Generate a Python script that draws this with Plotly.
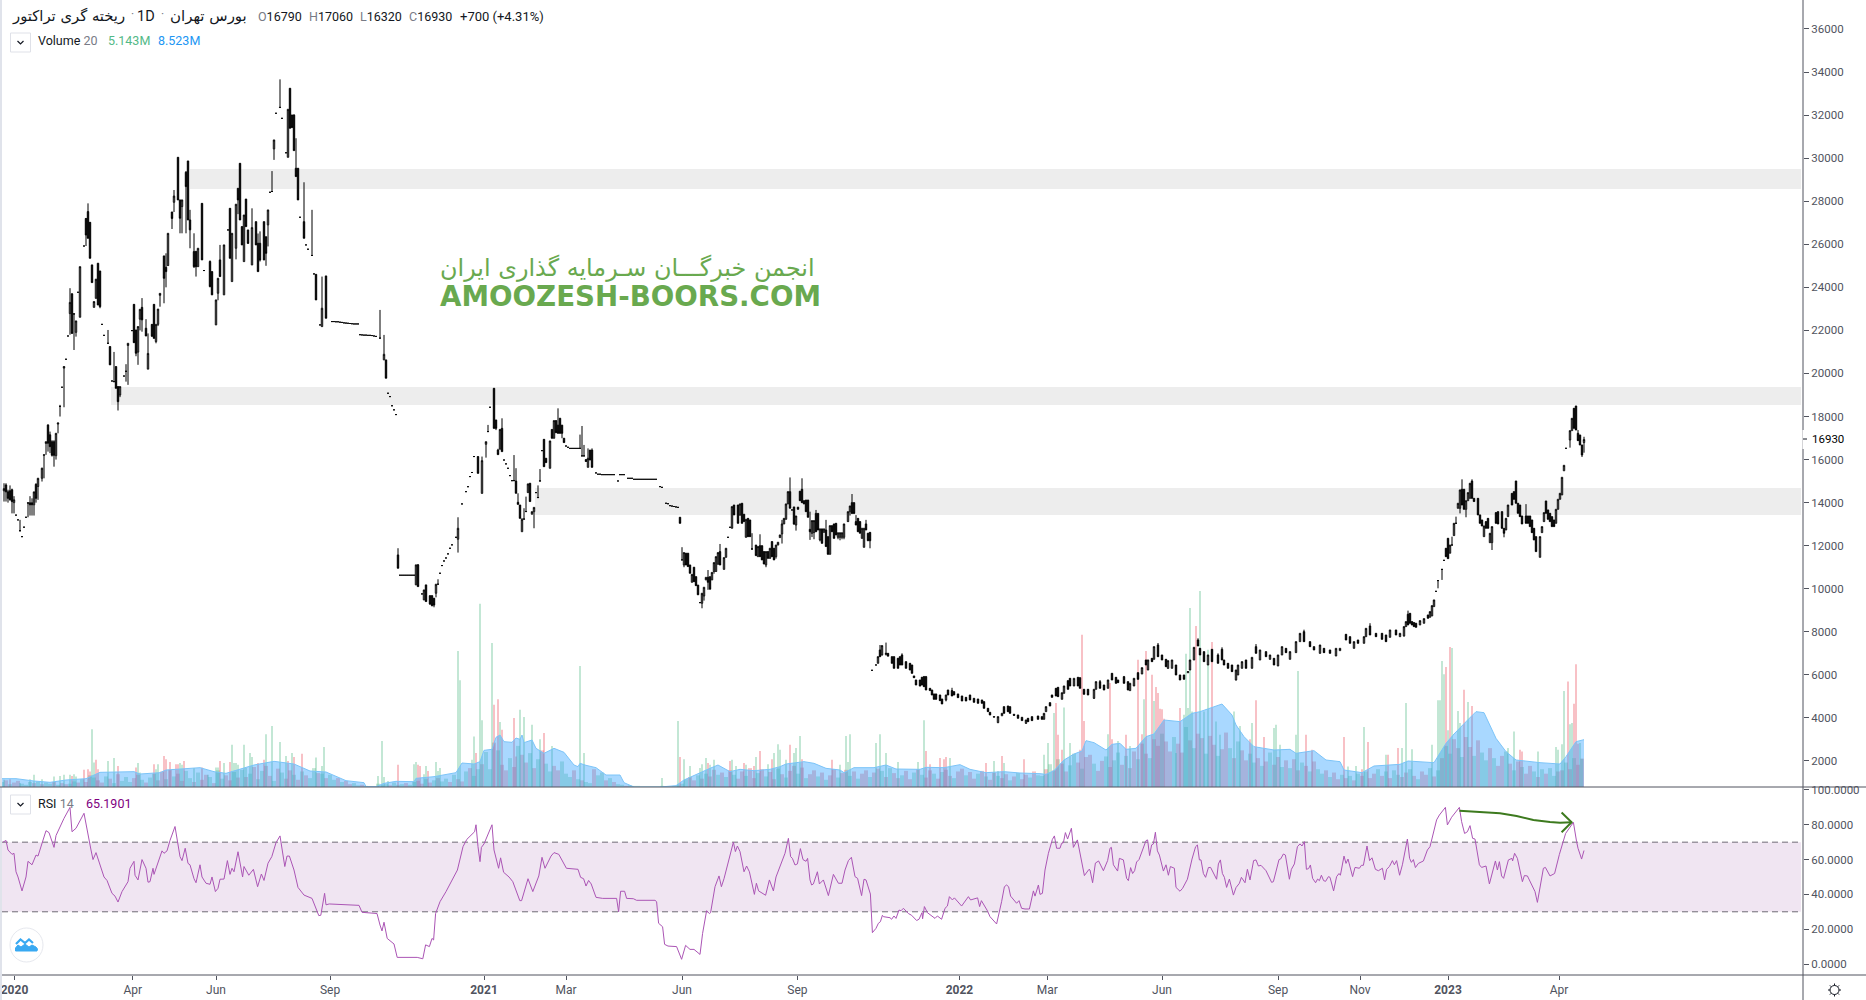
import math
import numpy as np
import plotly.graph_objects as go

W, H = 1866, 1000
RIGHT = 1803
PANE = 787
BOTTOM = 975

# ---- candles (session number, open, high, low, close) ----
sessions, opens, highs, lows, closes = [], [], [], [], []
sessions += [2,3,4,5,6,7,10,14,15,16,17,18,19,21,22,23,24,25,26,27]
opens += [14550,14820,14500,14550,14600,14000,12700,13990,13990,13990,13900,14850,14750,15130,16200,16750,17610,17150,16830,16830]
highs += [14900,14900,14600,14800,14650,14300,13200,14000,14300,14200,14500,14900,15150,15620,16220,16830,17630,17300,16900,16900]
lows += [14050,14050,14000,14100,13500,13500,12650,13320,13400,13400,13400,14000,14130,14980,15130,16220,16370,16300,16140,15670]
closes += [14650,14500,14200,14130,14050,14130,12700,13980,13900,13900,14500,14200,15130,15600,16220,16830,16760,16600,16200,16200]

sessions += [28,29,30,32,35,36,37,38,40,43,44,45,46,47,48,49,50,54,55,57]
opens += [16180,17650,18470,20250,22780,23700,22770,21910,22610,27200,27517,27020,25040,23070,23490,25120,24760,21400,21250,19620]
highs += [17220,17700,18540,20320,23960,23720,22780,22440,24960,27220,27900,27030,25050,23340,24380,25120,24760,22020,21250,21000]
lows += [16000,17220,18000,18430,21800,21860,21090,21710,22610,25920,26278,25350,24220,23070,23480,23180,23030,21400,20400,19620]
closes += [17220,17700,18470,20320,23300,21860,22760,22440,24960,26430,26278,25350,24220,23340,24380,23180,23100,21400,20400,19620]

sessions += [58,59,60,63,64,67,68,69,70,71,73,74,76,77,78,79,80,82,83,84]
opens += [20320,19390,19000,20100,21300,23210,22020,20990,22520,23070,22100,20200,22280,23210,21480,22280,23630,25460,24930,25010]
highs += [20320,19390,19390,20430,21400,23210,22020,22180,22980,23500,22520,21860,22280,23210,22280,22990,23720,25460,25580,26510]
lows += [19310,18280,18900,19620,19470,21430,20800,20400,22000,21940,21740,20200,21700,21630,21400,22200,23100,23260,24000,25000]
closes += [19310,18690,19390,20100,21400,21430,20940,22180,22980,22490,21740,20930,21730,21630,22280,22990,23720,24420,24730,26510]

sessions += [86,87,89,90,91,93,94,95,97,98,99,101,105,106,108,109,110,112,115,116]
opens += [27500,27950,30040,28060,27750,29345,29870,27130,25660,25660,24960,27900,25200,24730,22255,23725,25275,23650,27670,24267]
highs += [27500,28520,30040,28060,28060,29400,29870,27600,26510,25700,25815,27900,25250,24730,23416,24422,25970,25970,27670,26510]
lows += [26710,27500,28060,26510,26510,26510,27130,25815,24900,24500,24950,25275,24000,23650,22255,23400,24500,23650,25350,24267]
closes += [27200,28240,28060,27210,28060,28680,27130,26670,24960,24960,25815,25275,24035,23650,23416,24422,24500,25970,25350,26510]

sessions += [118,119,120,121,122,123,124,126,128,129,130,132,133,134,136,137,140,144,145,146]
opens += [25815,28600,29760,26820,25195,28100,26666,25040,27050,26047,26047,27050,26350,26900,28450,30430,32350,30040,33245,32005]
highs += [27860,28600,29760,26820,27360,28100,26666,27670,27050,26500,26600,27050,26350,27595,29400,30846,33660,32270,33245,32005]
lows += [25300,27400,27130,25970,25195,26820,26040,25040,25970,24730,25200,25270,25000,25900,28450,29920,32350,30040,31390,31420]
closes += [27860,28060,27130,25970,27360,26820,26040,26775,25970,24730,25270,25270,25580,27595,28450,30846,32360,32270,31390,31420]

sessions += [147,148,149,152,156,158,161,163,190,192,193,199,208,209,212,213,215,216,217,218]
opens += [32000,29530,29530,27050,25480,24600,22176,24530,21640,20630,20630,11572,10180,11110,9480,10180,9680,9680,9560,9790]
highs += [32040,30925,29530,28880,27600,24623,24500,24530,22950,21790,20630,11882,11110,11150,9945,10180,9680,9680,9560,10210]
lows += [30350,29145,28060,26280,25475,23416,22176,22565,21635,20630,19780,10953,10180,10100,9480,9405,9250,9180,9140,9600]
closes += [30350,29145,28060,26280,25480,23416,23030,22565,21640,20890,19780,10953,11110,10100,9945,9405,9290,9220,9240,10210]

sessions += [219,229,239,241,243,244,247,248,249,250,251,257,258,259,260,261,262,263,264,265]
opens += [10210,12300,16140,14430,16710,17300,19310,17840,16445,16480,17450,15030,15000,14015,13890,12650,13230,13580,14465,14900]
highs += [10440,13320,16140,16140,16830,17610,19310,17840,16500,17400,17917,16210,15600,14435,13890,13280,13740,14280,14870,14900]
lows += [10210,11680,15360,14430,16090,17300,17450,17370,16230,16480,16370,15020,14435,13920,13270,12650,13230,13580,14465,14050]
closes += [10210,12810,15360,15950,16830,17300,17450,17450,16230,17400,16370,15020,14435,13920,13270,13225,13240,13590,14870,14050]

sessions += [266,267,269,270,272,273,275,276,277,278,279,280,281,282,290,291,292,293,294,295]
opens += [13460,13580,14230,15000,16940,16060,15595,17400,16990,17810,17600,17920,17600,16990,16520,16170,16170,16000,15640,16440]
highs += [13580,13780,14800,15560,16940,16060,16865,17400,17810,17810,18380,17920,17600,16990,17160,17560,16680,16000,16520,16440]
lows += [13460,12810,14230,15000,15670,15860,15595,16990,16990,17250,17220,17220,16990,16790,16520,16170,16170,15900,15640,15980]
closes += [13580,13780,14240,15010,15670,15860,16865,16990,17810,17250,17220,17220,17220,16790,16520,16170,16170,15910,16060,15980]

sessions += [296,340,341,342,343,344,345,346,347,348,349,351,352,353,354,355,356,357,358,359]
opens += [16440,13320,11340,11105,11650,11650,11105,10300,11000,10563,10170,9325,9665,10410,10530,10560,10410,10800,10800,11137]
highs += [16520,13320,11930,11680,11650,11650,11105,10670,11000,10563,10170,9790,10070,10530,10870,10560,10760,11215,11490,11680]
lows += [15640,13040,11340,11000,11105,11030,10720,10300,10330,10145,9715,9093,9450,10410,9950,9975,10410,10700,10800,11137]
closes += [15640,13040,11340,11680,11105,11030,10720,10670,10330,10145,9720,9790,10070,10530,10300,9980,10760,11215,11490,11680]

sessions += [360,362,363,366,367,369,370,371,372,373,374,375,376,378,379,380,381,382,383,384]
opens += [11725,10900,11460,12810,13890,13890,13420,13970,13460,12390,13270,13195,11850,12030,11490,12000,12000,11725,11105,11725]
highs += [12080,11446,11880,13815,13890,13890,13940,13970,13460,13225,13270,13195,12580,12030,11960,12530,12000,11725,11725,11725]
lows += [11105,10900,11460,12810,13430,13040,13400,13040,13120,12390,12420,12420,11800,11540,11490,11490,11340,11150,11000,11400]
closes += [11105,11446,11880,13815,13430,13040,13940,13040,13120,13225,12420,12420,11850,11540,11960,11490,11340,11150,11725,11415]

sessions += [385,386,387,388,389,390,391,392,393,394,395,397,398,399,400,401,402,403,404,405]
opens += [11415,12190,11880,11490,12030,12375,12545,13010,13225,13940,14510,13800,12960,13790,14530,14620,14090,14120,14120,12760]
highs += [11880,12190,11880,12030,12160,12500,13200,13270,13940,14510,15170,13800,13380,13790,14530,15130,14090,14120,14120,13580]
lows += [11400,11490,11340,11400,12030,12375,12100,13010,13225,13940,13740,13000,12700,13690,14090,14000,13940,13580,13320,12270]
closes += [11880,11490,11340,12030,12160,12500,13010,13270,13940,14510,13740,13000,13380,13690,14090,14000,13940,13580,13320,12650]

sessions += [406,407,408,409,410,411,412,413,414,415,416,417,418,419,420,421,422,424,425,426]
opens += [12575,12610,13500,13500,12265,12780,12620,12730,12420,11600,12930,13010,13040,12390,12390,12390,12390,13118,13580,14000]
highs += [13165,13165,13660,13500,12780,12780,12780,13200,12420,12930,12930,13010,13040,12600,12600,12600,13010,13580,13845,14400]
lows += [12400,12300,12650,12730,12200,12110,12620,11960,11600,11600,12650,12340,12500,12300,12250,12300,12300,13100,13400,13500]
closes += [13165,13165,12650,12730,12780,12110,12780,11960,11600,12930,12650,12340,12500,12600,12600,12600,13010,13580,13845,13500]

sessions += [427,428,429,430,431,432,433,434,435,439,440,441,443,444,446,447,449,450,451,453]
opens += [14000,13118,13270,13118,12340,11925,13010,12580,12620,6537,7156,6924,6950,7000,6846,6846,6770,6846,6924,6614]
highs += [14000,13420,13270,13118,12810,12810,13200,12580,12620,6846,7388,7360,7500,7000,6846,6846,6770,6846,7000,6614]
lows += [13500,12960,12650,12580,12340,11925,12730,12230,11880,6537,6846,6900,6900,6870,6537,6305,6305,6459,6459,6305]
closes += [13500,12960,12650,12580,12810,12810,12730,12230,12230,6846,6846,7360,7000,6870,6537,6305,6305,6459,6459,6305]

sessions += [455,456,457,458,460,461,462,463,465,466,467,468,470,471,473,474,476,477,479,481]
opens += [6537,6459,5950,5763,5763,5890,5917,5917,5376,5298,5114,5114,5066,4880,4834,5298,5270,5221,5114,5020]
highs += [6537,6459,5950,5763,5763,5890,5950,5950,5376,5298,5114,5114,5066,4880,5066,5298,5400,5221,5114,5020]
lows += [6227,6072,5870,5530,5480,5530,5453,5298,5270,5066,4865,4865,4803,4650,4770,5066,5020,5066,4942,4788]
closes += [6227,6072,5870,5530,5480,5530,5453,5298,5270,5066,4865,4865,4803,4650,5066,5066,5020,5066,4942,4788]

sessions += [483,485,487,489,491,492,494,495,497,499,501,502,504,505,507,509,511,513,514,516]
opens += [4957,5066,4911,4880,4834,4757,4447,4261,4060,3780,4100,4524,4555,4524,4170,4137,4030,3750,3983,4060]
highs += [4957,5066,4911,4880,4834,4757,4447,4261,4060,4060,4215,4524,4555,4524,4170,4137,4030,3905,3983,4060]
lows += [4788,4834,4726,4680,4680,4447,4292,4137,4040,3760,4100,4215,4292,4215,4120,3983,3875,3720,3828,3875]
closes += [4788,4834,4726,4680,4680,4447,4292,4137,4040,4060,4215,4215,4292,4215,4120,3983,3875,3905,3828,3875]

sessions += [519,521,522,523,525,526,528,529,531,532,534,535,537,539,540,542,544,547,548,550]
opens += [4090,4060,3936,4292,4710,5066,5376,5422,4865,5144,5732,5840,5484,5887,5871,5330,5330,4911,5330,5685]
highs += [4090,4060,4215,4524,4710,5066,5376,5422,5170,5484,5732,5840,5840,5887,5871,5330,5330,5330,5685,5760]
lows += [3936,3936,3936,4292,4555,4957,5020,4989,4865,5144,5330,5484,5484,5484,5376,5097,5066,4880,5330,5376]
closes += [3936,3936,4215,4524,4555,4957,5020,4989,5170,5484,5330,5484,5840,5484,5376,5097,5066,5330,5685,5376]

sessions += [552,554,556,558,559,562,564,565,567,569,571,573,574,576,577,579,581,583,584,586]
opens += [5530,5376,6072,5887,5763,5917,5685,5268,5484,6103,6041,6692,6227,6769,6723,7388,6924,6723,6305,6305]
highs += [5530,5763,6072,5887,5763,5950,5685,5608,5840,6103,6335,6692,6692,6769,7311,7480,6924,6723,6660,6692]
lows += [5298,5376,5763,5608,5639,5608,5298,5268,5484,5794,6041,6459,6227,6614,6723,6846,6692,6382,6280,6305]
closes += [5298,5763,5763,5608,5639,5608,5298,5608,5840,5794,6335,6459,6692,6614,7311,6846,6692,6382,6660,6692]

sessions += [588,590,592,594,595,597,599,600,602,604,606,609,611,612,614,616,618,619,621,623]
opens += [6459,5995,5995,6100,6227,6692,7620,7233,7079,6459,7187,6924,7187,6692,6537,6459,5763,5995,6305,6692]
highs += [6459,5995,5995,6150,6692,7280,7700,7233,7079,6924,7187,7000,7280,6692,6537,6459,6227,6459,6614,6692]
lows += [5995,5763,5794,6100,6227,6692,7342,6924,6614,6459,6614,6537,6692,6459,6305,6150,5740,5995,6305,6305]
closes += [5995,5763,5794,6150,6692,7280,7342,6924,6614,6924,6614,6537,6692,6459,6305,6150,6227,6459,6614,6305]

sessions += [626,628,630,633,635,637,639,641,643,645,648,650,652,655,657,660,662,665,668,670]
opens += [6305,7311,6692,7079,6722,6769,6413,6924,7233,6723,7033,7543,8007,7543,7311,7001,7233,7156,6877,7125]
highs += [6815,7430,7156,7079,6924,6769,6924,7311,7233,7079,7543,7930,8100,7543,7311,7388,7233,7156,7233,7233]
lows += [6305,7001,6692,6846,6722,6459,6413,6924,7033,6723,7033,7543,7543,7311,7156,6990,7033,7001,6877,7125]
closes += [6815,7001,7156,6846,6924,6459,6924,7311,7033,7079,7543,7930,7543,7311,7156,7388,7033,7001,7233,7233]

sessions += [673,675,677,679,682,683,685,688,691,693,695,698,700,702,703,704,705,706,707,708]
opens += [7884,7775,7233,7620,7466,7775,8270,7930,7930,7853,7745,8085,7775,7808,8242,8815,8860,8474,8428,8397]
highs += [7884,7775,7543,7620,7775,8162,8400,7930,7930,7853,8085,8085,7930,8242,8474,8985,8860,8474,8428,8397]
lows += [7620,7466,7233,7466,7466,7775,7853,7775,7651,7543,7745,7853,7775,7777,8242,8320,8397,8319,8242,8210]
closes += [7620,7466,7543,7466,7775,8162,7853,7775,7651,7543,8085,7853,7930,8242,8474,8320,8397,8319,8242,8210]

sessions += [710,712,714,715,716,717,719,721,723,724,725,726,727,728,729,730,731,732,733,734]
opens += [8319,8397,8783,8675,8737,9171,10380,10900,11880,12344,11650,12030,12470,13040,13737,13737,14620,14620,13690,14090]
highs += [8520,8613,8783,8938,9217,9480,10380,10900,11880,12344,12030,12420,13040,13350,13970,14590,15083,14620,14090,14465]
lows += [8319,8397,8629,8675,8737,9171,10020,10410,11490,11400,11650,12030,12470,13040,13737,13500,13890,13690,13320,14090]
closes += [8520,8613,8629,8938,9217,9480,10380,10900,11490,11400,12030,12030,13040,13040,13970,14590,13890,13690,14090,14465]

sessions += [735,736,737,739,740,741,742,743,744,745,746,748,749,751,752,753,754,756,757,758]
opens += [14200,15000,14200,14200,13430,13195,12420,13118,13270,12140,12143,13536,13582,13582,12808,12730,13350,14430,14510,15006]
highs += [14900,15083,14200,14200,13430,13195,12917,13118,13270,12576,12886,13536,13582,13582,12808,13273,13890,14430,14510,15006]
lows += [14200,14200,14050,13430,13040,12917,12420,12810,12810,12140,11800,13040,13010,12808,12390,12730,13350,13890,14155,13970]
closes += [14900,14200,14050,13430,13040,12917,12917,12810,12810,12576,12886,13040,13010,12808,12576,13273,13890,13890,14155,13970]

sessions += [759,760,761,763,764,765,766,767,768,770,771,772,773,774,775,776,777,778,779,780]
opens += [13970,13890,13380,13380,13380,13380,13195,12808,12421,11460,12607,13118,14078,13660,13505,13350,13195,13040,13690,14155]
highs += [13970,13890,13380,13930,13380,13380,13195,12808,12421,12421,12886,13536,14078,13660,13505,13350,13195,13690,14155,14434]
lows += [13505,13350,13010,13040,13040,12886,12607,12267,11725,11460,12607,13118,13505,13226,13118,12886,12886,13040,13690,14155]
closes += [13505,13350,13010,13040,13040,12886,12607,12267,11725,12421,12886,13536,13505,13226,13118,12886,12886,13690,14155,14434]

sessions += [781,782,785,786,787,788,789,790,791,792]
opens += [14357,15480,16910,17344,18381,18490,17220,17143,16678,16790]
highs += [15177,15734,17344,17917,18381,18490,17375,17143,16678,17060]
lows += [14357,15480,16554,17344,17452,17375,16880,16678,16118,16320]
closes += [15177,15734,17344,17917,17452,17375,16880,16678,16214,16930]

# sessions where the stock did not move (single-price days)
flat_sessions = [8,9,11,12,13,31,33,34,39,42,51,52,56,62,66,102,114,135,138,141,143,150,153,154,157,160,166,167,168,169,170,171,172,173,174,175,176,177,178,179,180,181,182,183,184,185,186,187,188,194,195,196,197,198,200,201,202,203,204,205,206,207,211,220,221,222,223,224,225,226,228,231,233,234,235,236,237,245,252,253,254,255,256,268,271,283,284,285,286,287,288,289,298,299,300,301,302,303,304,305,306,307,309,310,311,312,314,315,316,317,318,319,320,321,322,323,324,325,326,327,328,330,331,333,334,335,336,337,338,339,350,364,365,396,436,438,718,722,783]
flat_prices = [13420,13200,12420,12860,13320,19360,20660,21740,23770,25920,22280,21770,19650,19880,21990,24780,26666,28415,32085,31850,30250,27255,25970,25770,24623,22255,22410,22410,22400,22400,22380,22370,22350,22340,22330,22320,22310,22300,22300,22300,21800,21790,21780,21780,21770,21770,21760,21740,21720,19080,18925,18500,18310,18090,10628,10628,10628,10628,10628,10628,10628,10628,9760,10720,11077,11290,11430,11620,11880,12040,12390,13940,14510,14740,15210,15400,16140,18430,15980,15800,15595,15255,15020,14465,16415,16630,16570,16520,16520,16520,16520,16520,15380,15320,15320,15300,15300,15300,15300,15300,15300,15300,15006,15300,15300,15300,15130,15130,15130,15084,15084,15084,15084,15084,15084,15084,15084,15084,15084,15084,15084,14743,14710,13970,13950,13860,13840,13820,13800,13780,9355,12390,12855,13660,6212,6460,9880,11320,16523]

# ---- volume, millions ----
vol_every_other = [
 0.9,1.2,0.5,0.8,1.1,0.6,0.4,0.9,0.7,1.0,0.5,0.8,0.6,0.9,0.4,0.7,0.5,0.6,1.0,0.8,
 1.4,0.9,2.1,1.7,1.2,0.8,1.9,1.5,0.7,2.3,1.1,1.8,0.9,1.6,2.2,1.3,0.8,1.7,2.4,1.2,
 2.8,1.4,3.1,1.9,2.4,1.1,2.9,1.6,0.9,2.6,1.3,2.2,1.8,0.7,3.0,1.5,2.1,1.2,2.7,1.7,
 3.1,1.8,2.4,3.6,1.4,2.9,3.8,2.0,1.1,3.3,2.6,1.5,3.0,2.2,1.3,2.8,2.1,1.6,3.4,2.5,
 2.4,1.6,2.2,1.3,1.6,0.9,1.1,0.5,0.7,0.3,0.4,0.2,0.1,0.1,0.6,0.3,0.5,0.3,0.8,0.4,
 0.5,0.7,0.4,0.9,1.1,0.6,1.4,0.8,1.2,1.6,1.0,1.5,0.9,2.2,1.4,1.0,2.8,3.4,2.0,3.2,
 4.1,6.3,3.2,8.0,6.6,4.0,3.0,5.2,3.6,7.4,5.8,4.4,6.1,3.4,5.0,6.6,4.2,2.8,3.8,3.0,
 4.6,2.4,1.8,3.0,1.4,1.2,0.9,0.7,3.2,2.1,2.6,1.2,1.6,0.9,0.5,0.4,0.2,0.3,0.2,0.2,
 0.1,0.1,0.1,0.1,0.1,0.2,0.1,0.1,0.2,0.3,0.6,1.4,1.8,1.2,2.1,1.5,2.4,1.9,3.1,2.2,
 2.6,1.8,3.0,2.2,1.5,2.8,2.0,3.4,1.6,2.5,3.2,1.9,2.7,1.4,3.3,2.3,1.7,2.9,3.8,2.4,
 3.5,1.6,2.3,3.0,1.9,2.6,1.3,2.1,3.2,1.7,2.5,3.1,2.0,2.8,1.5,2.4,3.0,1.8,2.6,3.3,
 2.9,1.8,3.4,2.5,1.6,2.1,2.9,1.4,2.6,3.2,2.2,1.7,3.0,2.4,1.5,2.7,3.1,2.0,1.6,2.8,
 3.3,2.1,2.7,1.5,2.4,2.9,1.9,1.3,2.6,2.0,1.6,2.3,1.2,1.9,2.5,1.4,2.2,1.7,2.8,2.1,
 2.0,3.2,4.1,3.0,5.0,4.2,2.8,3.9,6.0,4.4,3.3,5.4,5.8,4.2,2.9,4.7,5.5,3.6,4.8,6.2,
 4.0,5.6,3.4,6.4,5.0,7.8,6.0,5.2,8.6,7.4,9.6,8.2,6.4,9.0,7.8,6.2,10.8,8.4,7.0,9.6,
 8.8,6.0,9.2,7.6,5.6,6.8,9.8,7.0,5.2,8.2,6.6,4.8,6.0,4.4,5.2,3.8,4.6,6.2,4.0,5.4,
 3.6,4.8,3.4,5.0,3.0,4.4,3.8,2.8,4.6,3.2,2.4,3.0,1.8,2.6,1.4,2.2,1.6,2.0,1.2,2.4,
 2.0,2.8,1.6,2.4,3.2,2.0,2.8,1.6,3.0,2.2,1.8,2.6,3.2,2.0,1.4,2.8,2.2,3.4,1.9,3.0,
 5.2,7.4,6.0,8.6,7.0,5.4,9.0,7.2,5.6,8.4,6.2,4.8,7.0,5.2,3.8,5.6,6.4,4.2,3.0,4.6,
 3.6,2.4,3.8,2.8,1.8,3.2,2.4,3.4,2.0,2.8,3.0,4.4,3.2,5.2,4.0,5.1]
vol_every_other_tone = (
 "grgrrgggrgrggrgrrggr" "grggrrgrgrgggrrgrggr" "rgrgrrggrgrrgrggrrgr" "grgrggrrgrgrrgrgrggr"
 "grggrgrrggrgrrgggrgg" "grggrrgrgrggrgrrgrgg" "rggrgrrgrgrrgrgrggrr" "gggrgrggrggrgrggrggg"
 "ggggggggggggrrgrgrrg" "rgrgrrgrrgrgrrgrgrrg" "rgrrgrgrrgrrgrgrrgrr" "grgrrgrrgrgrrgrgrrgr"
 "rgrrgrgrrgrrgrgrrgrg" "grgrgrrggrgrrgrrgrgg" "rgrrgrrgrrgrrgrrgrgr" "rgrrgrrgrgrrggrgrgrr"
 "grgrrgrgrggrgrrgrgrg" "rgrrgrgrggrrgrgrrgrg" "rggrrgrrgrggrgrrgrgr" "grrgrgrggrrgrgrr")

spike_sessions = [2,5,10,15,17,21,27,30,32,35,36,37,38,42,44,45,46,47,48,49,54,57,59,68,69,70,77,78,79,82,83,85,88,89,90,91,92,97,101,104,108,109,110,112,115,116,117,118,119,122,123,125,126,129,132,133,136,140,143,144,146,147,151,158,161,162,189,191,192,194,199,207,208,209,210,212,213,214,218,219,220,229,230,236,237,238,240,241,246,247,249,250,251,257,258,
 260,262,266,270,272,276,290,292,331,339,340,342,345,350,351,353,354,355,357,365,366,368,372,373,377,378,380,384,386,387,389,390,393,395,397,398,400,401,416,420,423,424,425,438,440,443,449,459,462,463,465,470,472,473,475,493,497,499,501,502,512,
 522,524,527,528,529,531,532,535,540,541,542,554,555,556,559,563,565,569,571,572,573,576,577,578,579,580,581,582,588,590,592,593,594,595,596,598,600,602,604,606,608,610,617,620,625,626,628,632,637,638,640,648,649,653,656,672,674,678,681,682,684,693,694,699,701,703,706,716,719,720,721,722,723,724,725,726,729,730,732,734,736,754,757,760,761,769,778,779,781,782,784,785,786,787,788,789,790,791]
spike_volumes = [1.3,1.4,0.7,1.4,2.2,1.4,1.9,2.0,2.2,2.2,2.0,2.3,1.9,3.1,3.2,2.8,10.4,4.4,4.9,3.2,4.7,5.2,3.8,3.5,4.3,2.6,4.1,3.2,4.1,5.6,5.0,4.5,4.1,4.1,4.3,4.0,4.7,3.4,3.5,2.2,3.5,3.5,4.7,4.3,4.5,7.6,4.3,4.3,4.0,7.6,3.4,6.1,5.4,4.3,4.9,9.5,11.0,8.1,5.6,4.7,6.1,5.4,6.0,5.3,3.8,7.2,2.0,8.3,1.8,1.1,4.0,4.1,4.5,4.0,3.8,2.3,3.8,2.9,4.5,2.9,3.4,24.5,19.2,4.9,9.1,6.1,33.0,12.0,25.9,14.8,15.8,11.7,10.3,12.4,5.5,
 13.9,12.6,11.2,8.6,9.7,7.4,21.8,6.1,1.6,11.9,5.4,5.0,3.8,3.4,4.1,5.2,4.3,4.0,4.9,4.7,4.9,3.8,4.3,4.0,3.8,5.4,6.5,4.1,5.0,6.1,7.7,6.7,4.9,7.6,6.1,7.0,9.2,5.0,4.9,4.0,9.2,4.5,9.5,7.9,9.5,6.1,4.5,4.5,12.0,6.5,4.1,5.2,5.0,5.4,5.2,4.3,4.7,2.9,5.6,4.3,5.0,
 5.8,7.9,13.3,15.1,9.4,6.7,14.3,7.9,6.7,27.4,11.9,9.5,18.7,8.6,8.3,9.4,7.4,22.9,9.5,15.8,24.5,20.2,15.5,18.0,16.9,14.1,14.0,12.3,6.1,14.2,13.0,24.0,14.2,32.2,13.6,29.0,35.3,13.6,24.7,26.1,11.8,9.4,13.6,11.0,8.6,11.5,15.6,9.0,10.6,11.2,7.6,9.4,20.9,9.4,6.7,9.0,3.7,3.8,3.2,10.8,8.1,5.8,5.8,7.0,7.0,15.1,6.8,7.6,15.6,15.6,22.7,20.3,21.6,10.2,25.2,25.0,13.7,11.5,17.5,15.3,14.6,7.0,10.0,6.7,6.4,6.4,7.2,6.7,7.7,17.3,19.0,11.3,11.5,15.0,22.1,7.8,7.9,5.1]
spike_down = {5,36,42,44,45,48,49,59,68,77,82,83,85,88,89,92,101,110,115,129,132,144,147,151,199,209,210,214,238,247,249,251,257,258,
 272,340,354,365,372,377,380,386,395,401,416,463,465,470,472,473,493,501,512,
 528,529,531,540,541,542,555,556,563,569,571,573,576,578,579,580,581,582,590,598,606,625,628,632,653,656,672,681,684,694,699,723,725,732,736,760,761,784,787,788,789}

# ---- 20 period moving average of volume, millions ----
ma_sessions = [1,8,17,25,33,43,50,67,70,80,83,100,107,113,127,137,147,155,163,173,182,183,188,192,198,207,208,217,228,231,237,240,242,246,248,250,252,256,258,260,
 261,262,266,268,272,277,282,287,289,290,293,298,303,310,312,317,330,338,342,348,355,359,365,370,377,385,390,393,402,407,413,420,422,427,437,443,448,460,463,472,480,485,493,502,510,520,
 523,527,532,537,541,543,547,553,556,560,563,568,573,577,582,590,596,600,607,611,616,618,622,627,637,645,648,657,663,670,672,681,687,700,704,717,723,727,733,738,742,748,753,758,770,780,783,788,792]
ma_values = [1.5,1.5,1.08,0.84,1.26,1.5,2.64,2.76,2.34,2.58,3.06,3.48,2.76,2.46,3.96,4.62,4.14,2.88,2.7,1.14,0.78,0.06,0.06,0.66,1.02,0.96,1.56,1.86,2.58,4.32,4.14,4.56,6.6,6.78,8.94,9.36,8.16,8.04,8.82,8.58,
 9.36,7.98,8.46,6.96,6.06,6.96,6.24,3.96,3.66,4.26,3.9,3.48,2.16,2.16,0.78,0,0,0.24,1.26,2.28,3.36,3.96,2.76,3.18,2.94,3.18,3.66,4.14,4.56,4.26,3.36,3.06,2.58,3.48,3.48,3.96,3.24,3.18,3.54,3.48,4.02,3.18,2.58,2.76,2.52,2.4,
 2.28,2.94,4.86,5.94,6.48,8.34,7.98,6.66,7.68,7.86,6.78,6.96,9.06,9.54,12.06,11.76,13.26,13.56,14.46,14.94,12.96,11.16,9.06,7.26,6.66,6.78,6.06,6.54,4.86,4.56,3.06,2.58,3.78,4.08,4.68,4.38,7.86,9.54,11.76,13.56,13.38,8.76,6.36,4.86,4.38,4.14,5.46,8.16,8.52]

# ---- RSI 14 ----
rsi_sessions = [1.5,3,4,6,7,8,9,11,13,14,16,18,19,23,24.5,27,28,32,35,36,38,42,45.5,46.5,48,52,53.5,56,57.5,59,61,64,65,67,67.5,69,71,73,74,75,76.5,77,81,82,83.5,85,87.5,90,91,92.6,94,95,97,98,100,101,103,105,106,107.7,109,110,112,113.7,115,116,117,119,121.3,122,124.4,126.7,128.8,130.7,132,134,135.9,138,140,142.4,143.5,144.7,147,149,152,156,159.4,160.4,162.3,163,164.6,171,179.5,181,188.5,190,191,192,193.6,197,198.6,208.6,211.4,212.8,214.7,216,216.8,217.8,220,223,228.7,231.5,233.4,237.3,238,239,240,240.7,242,246,247,249.3,250.3,251.8,254.5,256.4,259.9,260.8,264,266.4,269.4,271,272.5,275.5,277,279.4,283.2,289,290.3,291.8,293,294.3,295.6,298,
 301.3,308.3,309.3,310.3,312.3,313.3,316.7,318.3,327.5,328.3,329.3,331.3,332.3,334,338.3,340.8,342.8,345,347,350,351.3,353.3,354.7,355.3,357.5,359.5,360.7,362,366.7,367.7,368.7,370,372,373.3,374.7,377.2,378.2,379.3,382.8,384.7,386.7,388,392.5,394.2,395.3,396.2,397.5,398.7,400.2,401.5,403,403.8,405,405.8,406.7,408.7,409.7,411.7,414.2,416.7,419.2,421,422.5,424.2,425.7,427.5,428.8,430.8,432,433,435.2,436.2,438,439.2,440.2,441.2,441.7,445,445.8,447,448,449.5,450.5,451.7,454.2,455.8,458.3,459.5,461,461.3,462.2,463.7,467.5,468.7,470.8,472.5,473.7,474.7,476.2,477.2,480.8,484.2,485.3,488.8,489.8,490.7,492,493.7,495,498.3,500.8,502.2,503.3,504.3,505.3,508.3,509.5,510.8,512.5,514.7,516.7,517.5,519.2,
 520,521.2,522.5,524.2,526.2,527.2,528.3,530,530.8,531.7,532.7,533.8,535.7,536.7,538.7,542.2,544.5,545,546.3,547.7,549.3,551.7,553.8,555,555.7,556.7,558.8,559.7,561.7,563.3,564.2,565.3,566.3,567.3,568.3,569.5,573,573.8,574.8,575.8,576.7,577.7,578.7,579.7,581.7,583,584.2,585.2,587.2,588,590,591.3,593.7,596,597.8,598.7,599.7,600.5,601.7,602.8,604.2,605.3,606.7,608.3,609.2,610.2,611.2,612.2,613.3,614.7,616.7,618,619.7,620.7,622.5,623.7,625,626.8,628,629.2,630.5,633,635.8,636.7,639.5,640.3,641.7,642.7,644.7,645.7,647.2,648.7,650,651,652.2,653.2,654.3,655.2,656.3,657.8,658.8,659.7,660.7,661.8,662.8,664.2,665,666.8,668.3,669.5,670.2,672,673,674,676.3,677.5,679.7,680.7,681.7,683.5,684.8,686,687.7,689.2,691.2,692.3,693.3,694.7,696.2,697.2,698.3,699.8,701.2,703.7,704.8,705.7,706.7,707.7,709.2,711.7,713.7,715,718.3,719.7,722.7,723.7,725.8,729.7,730.8,732.3,733.7,735,736.3,737.5,739.7,740.8,743,744.7,747.7,748.7,749.7,750.8,751.8,754.2,756,756.3,757.3,758.7,761.2,762.2,763.7,765.8,767.5,768.7,770.5,771.7,772.7,775,777.3,779.7,782.8,786.7,788.3,789,790.8,792]
rsi_values = [70,71,65.5,63,63.6,53,50,42,50,59,57,62.6,62,76.6,75.5,67,73.8,83.7,90,76,78,86.6,65.5,60,64,50,48,40.6,39,35.6,41.6,47.3,55,59,51,48.3,60,55,47,47.3,55,51.5,65,63.6,65,71,79,61.7,59.4,66.5,57.8,57,49,46.7,57,50,46.4,45.8,50,41.6,43.5,48.7,48.8,59.4,51.5,55,53,64.5,50,56,51,54.4,44.4,51.7,48,57.9,61.7,69.7,73.6,56,62,62,54,44,39.6,37.7,27.8,28,40.6,34,34.5,34,33.7,29.7,29,22.4,19,24,14.7,11.5,3.8,3.8,3,11,10,14.7,13.8,29,35.8,41.6,54,67.4,71.6,76,80,67.4,58.8,67,69,80,65.5,55,61,52.7,50,47.3,36.4,36.4,49,41.6,50.6,61.3,55,62,64,63,55,54.4,49.8,49,44.8,48,46,38.3,
 37.7,37.7,30,41.8,41.8,37.7,37.5,36.6,36.6,35.8,23.4,21.4,11.3,10.3,10,2.7,10.7,8.4,8.4,5.5,17.6,30.6,29,29.5,44.4,50.6,44.4,49,70,64.6,67.8,64.6,53,56.3,53,40,46.4,42,39.5,48.3,42,50,63.6,72.2,61.7,60.7,56.9,57.5,66.3,60,59,60.7,48.3,45.4,46,53,46,48.3,39.3,51.5,46.4,46.4,54,59.4,61.3,50.2,49.2,39.3,48.7,48.3,40.2,18,20.5,23.4,24.3,28,27.2,26.6,25.7,27.6,26.2,31,30.6,32,29,28,25,25.7,29.5,26,33,29.5,26.2,27.6,25.7,32,33.3,38.7,36.8,38,33.3,38.7,36.8,38,33,36.4,33.9,30.6,27.2,23,35.8,44.4,45.4,44.4,39,34.9,36.4,32,31.6,31.6,42,39,45.4,
 40,40.6,54,63.6,71.6,73.6,66.5,66.5,69.3,69.7,75.5,71.8,78,67,71.3,50.8,54.4,54,46.7,58,59.2,53.6,59.4,66.5,67,57,53.4,60.7,59.8,49.2,47.9,55.4,52,53.6,58.6,60,70.9,71.3,62.3,68.4,69,75.7,65,62.6,53.4,57,51,56,55,44,41.8,43.5,48.7,60.3,67.4,68.4,59.8,59.8,52,49.8,55.4,55.5,52,48.7,57.5,59.8,52,49.8,44,48.8,39.6,43.9,46.4,49.8,46.7,54.4,48.3,59.4,59.8,56.3,56.7,53.6,46.9,47.3,60,60.3,63.2,62.6,48.7,54.4,57.5,67.4,69,67.8,70.3,54.4,54.8,56.9,49.2,46.7,48.8,47.9,51,47.9,47.5,50.2,49.8,42,50.2,52,51,62,57.8,60.3,50.2,55.5,55,56.7,56.7,67.8,59.4,61,54.4,53.6,55,48.3,54.4,56,59.4,57,59.4,51,57,71.8,60.7,58.4,60,55.4,57.8,59.2,65.5,67.4,82.8,85.6,90,79.9,84.3,90,81.8,75,76,79.5,72.2,71.8,57,55.5,56.3,46,59.2,54,58.8,50.6,49.2,59.8,60.7,59.2,63.6,60.7,47.3,50.8,50.6,45.4,41.6,35.4,48.7,55,55.5,50.6,52,63,75,81.4,70.3,66.5,60.3,65.2]

arrow_sessions = [729.7,741.7,750,758.3,766.7,775,780,785.8,None,780.8,785.8,780.8]
arrow_values = [88.1,87.2,86.6,85,82.8,81.6,81.2,81.4,None,87,81.4,75.7]

price_ticks = list(range(2000, 36001, 2000))
rsi_ticks = [0, 20, 40, 60, 80, 100]
time_ticks = [7.25, 66.4, 108, 165, 242, 283, 341, 398.7, 479.7, 523.7, 581, 639, 680, 724, 779.5]
time_labels = ["<b>2020</b>", "Apr", "Jun", "Sep", "<b>2021</b>", "Mar", "Jun", "Sep", "<b>2022</b>", "Mar", "Jun", "Sep", "Nov", "<b>2023</b>", "Apr"]

assert len(sessions) == len(opens) == len(highs) == len(lows) == len(closes)
assert len(flat_sessions) == len(flat_prices), (len(flat_sessions), len(flat_prices))
assert len(rsi_sessions) == len(rsi_values), (len(rsi_sessions), len(rsi_values))
assert len(ma_sessions) == len(ma_values), (len(ma_sessions), len(ma_values))
assert len(spike_sessions) == len(spike_volumes), (len(spike_sessions), len(spike_volumes))

all_s = np.array(sessions + flat_sessions)
order = np.argsort(all_s)
all_o = np.array(opens + flat_prices)[order]
all_h = np.array(highs + flat_prices)[order]
all_l = np.array(lows + flat_prices)[order]
all_c = np.array(closes + flat_prices)[order]
all_s = all_s[order]

GREEN_V = "rgba(83,185,135,0.35)"
RED_V = "rgba(235,77,92,0.35)"
base_s = list(range(1, 792, 2))
base_tone = (vol_every_other_tone * 2)[:len(base_s)]

fig = go.Figure()
fig.add_trace(go.Bar(x=base_s, y=vol_every_other[:len(base_s)], width=2, yaxis="y", xaxis="x",
                     marker=dict(color=[GREEN_V if t == "g" else RED_V for t in base_tone], line_width=0), hoverinfo="skip"))
fig.add_trace(go.Bar(x=spike_sessions, y=spike_volumes, width=1, yaxis="y", xaxis="x",
                     marker=dict(color=[RED_V if s in spike_down else GREEN_V for s in spike_sessions], line_width=0), hoverinfo="skip"))
fig.add_trace(go.Scatter(x=ma_sessions, y=ma_values, mode="lines", fill="tozeroy", yaxis="y", xaxis="x",
                         line=dict(color="#7cc4f8", width=1), fillcolor="rgba(46,160,255,0.41)", hoverinfo="skip"))
fig.add_trace(go.Candlestick(x=all_s, open=all_o, high=all_h, low=all_l, close=all_c, yaxis="y2", xaxis="x",
                             increasing=dict(line=dict(color="#000000", width=1), fillcolor="#ffffff"),
                             decreasing=dict(line=dict(color="#000000", width=1), fillcolor="#000000"),
                             whiskerwidth=0, hoverinfo="skip"))
fig.add_trace(go.Scatter(x=rsi_sessions, y=rsi_values, mode="lines", yaxis="y3", xaxis="x2",
                         line=dict(color="#ab55b5", width=1), hoverinfo="skip"))
fig.add_trace(go.Scatter(x=arrow_sessions, y=arrow_values, mode="lines", yaxis="y3", xaxis="x2",
                         line=dict(color="#3d7a1e", width=2, shape="linear"), connectgaps=False, hoverinfo="skip"))


def px(v):
    return v / W


def py(v):
    return 1 - v / H


def pline(x0, y0, x1, y1, color, width=1, dash=None, layer="above"):
    return dict(type="line", xref="paper", yref="paper", x0=px(x0), y0=py(y0), x1=px(x1), y1=py(y1),
                line=dict(color=color, width=width, dash=dash), layer=layer)


def ppath(points, color=None, fill=None, width=1, closed=False):
    d = "M" + " L".join(f"{px(a):.5f},{py(b):.5f}" for a, b in points) + (" Z" if closed else "")
    return dict(type="path", xref="paper", yref="paper", path=d, layer="above",
                line=dict(color=color or "rgba(0,0,0,0)", width=width), fillcolor=fill or "rgba(0,0,0,0)")


AX = "#50535e"
shapes = []
for x0, p0, p1 in [(95, 28568, 29496), (55.5, 18535, 19371), (267.5, 13426, 14680)]:
    shapes.append(dict(type="rect", xref="x", yref="y2", x0=x0, x1=900.5, y0=p0, y1=p1,
                       fillcolor="#ededed", line_width=0, layer="below"))
shapes.append(dict(type="rect", xref="x2", yref="y3", x0=1, x1=900.5, y0=30, y1=70,
                   fillcolor="#f0e5f2", line_width=0, layer="below"))
for level in (70, 30):
    shapes.append(dict(type="line", xref="x2", yref="y3", x0=1, x1=900.5, y0=level, y1=level,
                       line=dict(color="#6f6b76", width=1, dash="6px,4px"), layer="below"))
shapes.append(dict(type="rect", xref="paper", yref="paper", x0=0, x1=px(2), y0=0, y1=1,
                   fillcolor="#e0e3eb", line_width=0, layer="above"))
shapes.append(pline(0, PANE, W, PANE, AX))
shapes.append(pline(2, BOTTOM, W, BOTTOM, AX))
shapes.append(pline(RIGHT, 0, RIGHT, H, AX))
# last price tag
shapes.append(dict(type="rect", xref="paper", yref="paper", x0=px(RIGHT - 0.5), x1=px(1865), y0=py(449), y1=py(430),
                   fillcolor="#ffffff", line_width=0, layer="above"))
shapes.append(pline(RIGHT, 439, RIGHT + 4, 439, "#131722"))
# legend buttons
for top in (33, 795):
    shapes.append(dict(type="rect", xref="paper", yref="paper", x0=px(10.5), x1=px(30.5), y0=py(top), y1=py(top + 19),
                       line=dict(color="#dfe1e8", width=1), fillcolor="#ffffff", layer="above"))
    shapes.append(ppath([(17.5, top + 8), (20.5, top + 11), (23.5, top + 8)], color="#131722", width=1.2))
# logo
shapes.append(dict(type="circle", xref="paper", yref="paper", x0=px(10), x1=px(43), y0=py(962), y1=py(928),
                   line=dict(color="#e6e8ee", width=1), fillcolor="#ffffff", layer="above"))
shapes.append(ppath([(15.5, 951), (15.5, 948), (18, 945), (21, 947), (25, 944), (29, 947), (32, 945), (36, 947), (37.5, 949), (37, 951)],
                    fill="#39a9f2", color="#39a9f2", closed=True))
shapes.append(ppath([(16, 944), (20.5, 939.5), (25, 943), (29, 939.5), (33, 943)], color="#39a9f2", width=2.2))
# gear
cx, cy = 1834.5, 990
shapes.append(dict(type="circle", xref="paper", yref="paper", x0=px(cx - 4.5), x1=px(cx + 4.5), y0=py(cy + 4.5), y1=py(cy - 4.5),
                   line=dict(color="#131722", width=1), fillcolor="#ffffff", layer="above"))
for k in range(8):
    a = k * math.pi / 4
    shapes.append(pline(cx + 4.5 * math.cos(a), cy + 4.5 * math.sin(a), cx + 6.5 * math.cos(a), cy + 6.5 * math.sin(a), "#131722"))


def note(x, y, text, size=12, color="#131722", font="Roboto, Arial", anchor="left"):
    return dict(xref="paper", yref="paper", x=px(x), y=py(y), text=text, showarrow=False, xanchor=anchor, yanchor="middle",
                font=dict(size=size, color=color, family=font), borderpad=0, borderwidth=0)


G = "#787b86"
D = "#131722"
FA = "DejaVu Sans"
annotations = [
    note(11.5, 16, "ریخته گری تراکتور", 14.8, D, FA),
    note(131, 14, "·", 12, G),
    note(137, 16, "1D", 14.5, D),
    note(161, 14, "·", 12, G),
    note(170, 16, "بورس تهران", 15, D, FA),
    note(258, 16, f"<span style='color:{G}'>O</span>16790", 12.5),
    note(309, 16, f"<span style='color:{G}'>H</span>17060", 12.5),
    note(360, 16, f"<span style='color:{G}'>L</span>16320", 12.5),
    note(409, 16, f"<span style='color:{G}'>C</span>16930", 12.5),
    note(460, 16, "+700 (+4.31%)", 13),
    note(37.5, 40.5, f"Volume <span style='color:{G}'>20</span>", 12.5),
    note(108, 40.5, "5.143M", 12.5, "#53b987"),
    note(157.5, 40.5, "8.523M", 12.5, "#2196f3"),
    note(38, 803, f"RSI <span style='color:{G}'>14</span>", 12.5),
    note(86, 803, "65.1901", 12.5, "#800080"),
    note(1812, 439, "16930", 11.5, "#000000"),
    note(440, 268, "انجمن خبرگـــان سـرمایه گذاری ایران", 23.9, "#69a94f", FA),
    note(440, 297, "<b>AMOOZESH-BOORS.COM</b>", 27.7, "#69a94f", "DejaVu Sans"),
]

TICKF = dict(family="Roboto, Arial", size=11.5, color=AX)
XD = [0, RIGHT / W]
fig.update_layout(
    width=W, height=H, margin=dict(l=0, r=0, t=0, b=0, autoexpand=False), paper_bgcolor="#ffffff", plot_bgcolor="#ffffff",
    showlegend=False, barmode="overlay", boxmode="overlay", boxgap=0, shapes=shapes, annotations=annotations,
    hovermode=False,
    xaxis=dict(domain=XD, range=[0, 901.5], visible=False, rangeslider=dict(visible=False), anchor="y"),
    xaxis2=dict(domain=XD, matches="x", anchor="y3", tickmode="array", tickvals=time_ticks, ticktext=time_labels,
                ticks="outside", ticklen=4, tickcolor=AX, tickfont=dict(family="Roboto, Arial", size=12, color=AX),
                showgrid=False, zeroline=False, showline=False),
    yaxis=dict(domain=[1 - PANE / H, 1], range=[0, 141.66], visible=False),
    yaxis2=dict(overlaying="y", side="right", anchor="x", range=[792, 37346], tickmode="array", tickvals=price_ticks,
                ticktext=[str(t) for t in price_ticks], ticks="outside", ticklen=5, tickcolor=AX, tickfont=TICKF,
                showgrid=False, zeroline=False, showline=False),
    yaxis3=dict(domain=[1 - BOTTOM / H, 1 - PANE / H], side="right", anchor="x2", range=[-6.32, 101.7], tickmode="array",
                tickvals=rsi_ticks, ticktext=[f"{t:.4f}" for t in rsi_ticks], ticks="outside", ticklen=5, tickcolor=AX,
                tickfont=TICKF, showgrid=False, zeroline=False, showline=False),
)
fig.write_html("out.html", config=dict(displayModeBar=False),
               post_script="document.body.style.margin='0';document.body.style.overflow='hidden';")
